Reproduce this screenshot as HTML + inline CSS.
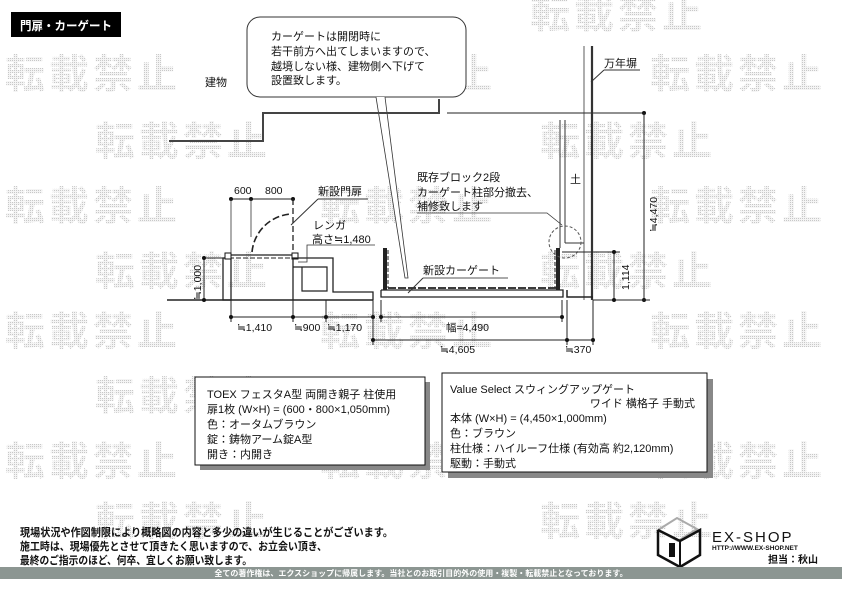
<!DOCTYPE html>
<html><head><meta charset="utf-8"><style>
body{margin:0;background:#fff;}
svg{display:block;font-family:"Liberation Sans","Noto Sans CJK JP",sans-serif;}
.wm{font-size:40px;font-weight:bold;fill:url(#dots);letter-spacing:4px;}
.t{font-size:11px;fill:#111;}
.d{font-size:10.5px;fill:#111;}
</style></head><body>
<svg width="842" height="595" viewBox="0 0 842 595" xmlns="http://www.w3.org/2000/svg">
<defs><pattern id="dots" width="2" height="2" patternUnits="userSpaceOnUse"><rect width="2" height="2" fill="#f4f4f4"/><rect width="1" height="1" fill="#c8c8c8"/></pattern></defs>
<!-- watermarks -->
<g class="wm">
<text x="530" y="28">転載禁止</text>
<text x="5" y="88">転載禁止</text><text x="320" y="88">転載禁止</text><text x="650" y="88">転載禁止</text>
<text x="95" y="155">転載禁止</text><text x="540" y="155">転載禁止</text>
<text x="5" y="220">転載禁止</text><text x="320" y="220">転載禁止</text><text x="650" y="220">転載禁止</text>
<text x="95" y="285">転載禁止</text><text x="540" y="285">転載禁止</text>
<text x="5" y="345">転載禁止</text><text x="320" y="345">転載禁止</text><text x="650" y="345">転載禁止</text>
<text x="95" y="410">転載禁止</text><text x="540" y="410">転載禁止</text>
<text x="5" y="475">転載禁止</text><text x="320" y="475">転載禁止</text><text x="650" y="475">転載禁止</text>
<text x="95" y="535">転載禁止</text><text x="540" y="535">転載禁止</text>
</g>
<!-- title -->
<rect x="11" y="12" width="110" height="25" fill="#000"/>
<text x="20" y="30" fill="#fff" font-size="12" font-weight="bold" textLength="92" lengthAdjust="spacingAndGlyphs">門扉・カーゲート</text>
<!-- callout -->
<rect x="247" y="17" width="219" height="80" rx="13" fill="#fff" stroke="#333" stroke-width="1"/>
<g class="t"><text x="271" y="40">カーゲートは開閉時に</text><text x="271" y="55">若干前方へ出てしまいますので、</text><text x="271" y="70">越境しない様、建物側へ下げて</text><text x="271" y="84">設置致します。</text></g>
<polyline points="376,97 405,278 408,278 385,97" fill="#fff" stroke="#333" stroke-width="0.8"/>
<!-- building -->
<text class="t" x="205" y="86">建物</text>
<polyline points="169,141 263,141 263,113 439,113 439,99" fill="none" stroke="#444" stroke-width="2"/>
<line x1="447" y1="113" x2="644" y2="113" stroke="#222"/><circle cx="644" cy="113" r="2" fill="#111"/>
<line x1="644" y1="113" x2="644" y2="300" stroke="#222"/><circle cx="644" cy="300" r="2" fill="#111"/>
<line x1="593" y1="300" x2="650" y2="300" stroke="#222"/>
<text class="d" transform="translate(657,232) rotate(-90)">≒4,470</text>
<!-- wall -->
<line x1="584" y1="46" x2="584" y2="300" stroke="#333" stroke-width="0.8"/>
<line x1="592" y1="46" x2="592" y2="300" stroke="#333" stroke-width="2.2"/>
<text class="t" x="604" y="67">万年塀</text>
<line x1="604" y1="70" x2="640" y2="70" stroke="#333"/><line x1="604" y1="70" x2="591" y2="82" stroke="#333"/>
<!-- soil box -->
<line x1="560" y1="120" x2="560" y2="248" stroke="#333"/>
<line x1="565" y1="120" x2="565" y2="243" stroke="#333"/>
<line x1="565" y1="243" x2="584" y2="243" stroke="#333"/>
<text class="t" x="570" y="183">土</text>
<!-- ground -->
<line x1="167" y1="300" x2="373" y2="300" stroke="#222" stroke-width="1.5"/>
<polyline points="381,290 563,290 563,297 381,297 381,290" fill="none" stroke="#222" stroke-width="1.3"/>
<polyline points="567,290 567,297 593,297" fill="none" stroke="#222" stroke-width="1.5"/>
<!-- left pillar, gate -->
<rect x="223" y="258" width="8" height="42" fill="none" stroke="#222" stroke-width="1.3"/>
<line x1="231" y1="199" x2="293" y2="199" stroke="#222"/>
<circle cx="231" cy="199" r="2" fill="#111"/><circle cx="251" cy="199" r="2" fill="#111"/><circle cx="293" cy="199" r="2" fill="#111"/>
<line x1="231" y1="199" x2="231" y2="253" stroke="#333" stroke-width="0.8"/>
<line x1="251" y1="199" x2="251" y2="237" stroke="#333" stroke-width="0.8"/>
<line x1="293" y1="199" x2="293" y2="253" stroke="#222" stroke-width="1.3" stroke-dasharray="6,3"/>
<path d="M252,252 A42,42 0 0 1 291,214" fill="none" stroke="#222" stroke-width="1.6" stroke-dasharray="7,3"/>
<line x1="229" y1="255" x2="295" y2="255" stroke="#222" stroke-width="1.2"/>
<line x1="229" y1="258" x2="295" y2="258" stroke="#222" stroke-width="1" stroke-dasharray="5,2"/>
<rect x="225" y="253" width="6" height="6" fill="#fff" stroke="#111"/><rect x="292" y="253" width="6" height="6" fill="#fff" stroke="#111"/>
<text class="d" x="234" y="194">600</text><text class="d" x="265" y="194">800</text>
<text class="t" x="318" y="195">新設門扉</text>
<line x1="318" y1="199" x2="368" y2="199" stroke="#777" stroke-width="1.5"/><line x1="318" y1="199" x2="291" y2="225" stroke="#333"/>
<!-- brick -->
<polyline points="293,300 293,258 333,258 333,292 373,292 373,300" fill="none" stroke="#222" stroke-width="1.3"/>
<polyline points="293,267 327,267 327,291 302,291 302,267" fill="none" stroke="#222" stroke-width="1.2"/>
<polyline points="375,245 307,245 307,262 298,262" fill="none" stroke="#333" stroke-width="0.8"/>
<text class="t" x="313" y="229">レンガ</text><text class="t" x="312" y="243">高さ≒1,480</text>
<!-- car gate -->
<rect x="383" y="248" width="4" height="42" fill="#222"/>
<rect x="556" y="248" width="4" height="42" fill="#222"/>
<line x1="388" y1="288" x2="556" y2="288" stroke="#222" stroke-width="1.8" stroke-dasharray="8,2"/>
<line x1="388" y1="250" x2="388" y2="288" stroke="#222" stroke-dasharray="4,2"/>
<line x1="555" y1="250" x2="555" y2="288" stroke="#222" stroke-dasharray="4,2"/>
<text class="t" x="423" y="274">新設カーゲート</text>
<line x1="423" y1="278" x2="508" y2="278" stroke="#777" stroke-width="1.3"/><line x1="423" y1="278" x2="408" y2="293" stroke="#333"/>
<circle cx="565" cy="242" r="16" fill="none" stroke="#555" stroke-dasharray="3,2"/>
<g class="t"><text x="417" y="181">既存ブロック2段</text><text x="417" y="196">カーゲート柱部分撤去、</text><text x="417" y="210">補修致します</text></g>
<polyline points="417,213 547,213 562,225" fill="none" stroke="#333" stroke-width="0.8"/>
<!-- right dim -->
<line x1="562" y1="252" x2="620" y2="252" stroke="#222"/>
<line x1="614" y1="252" x2="614" y2="300" stroke="#222"/><circle cx="614" cy="252" r="2" fill="#111"/><circle cx="614" cy="300" r="2" fill="#111"/>
<text class="d" transform="translate(629,290) rotate(-90)">1,114</text>
<!-- left dim -->
<line x1="204" y1="258" x2="223" y2="258" stroke="#222"/>
<line x1="204" y1="258" x2="204" y2="300" stroke="#222"/><circle cx="204" cy="258" r="2" fill="#111"/><circle cx="204" cy="300" r="2" fill="#111"/>
<text class="d" transform="translate(201,300) rotate(-90)">≒1,000</text>
<!-- bottom dims -->
<g stroke="#222">
<line x1="231" y1="300" x2="231" y2="322"/><line x1="293" y1="300" x2="293" y2="322"/><line x1="326" y1="300" x2="326" y2="322"/>
<line x1="373" y1="300" x2="373" y2="345"/><line x1="381" y1="300" x2="381" y2="322"/><line x1="562" y1="300" x2="562" y2="322"/>
<line x1="567" y1="300" x2="567" y2="345"/><line x1="593" y1="300" x2="593" y2="345"/>
<line x1="231" y1="317" x2="373" y2="317"/><line x1="381" y1="317" x2="562" y2="317"/>
<line x1="373" y1="340" x2="593" y2="340"/>
</g>
<g fill="#111"><circle cx="231" cy="317" r="2"/><circle cx="293" cy="317" r="2"/><circle cx="326" cy="317" r="2"/><circle cx="373" cy="317" r="2"/><circle cx="381" cy="317" r="2"/><circle cx="562" cy="317" r="2"/><circle cx="373" cy="340" r="2"/><circle cx="567" cy="340" r="2"/><circle cx="593" cy="340" r="2"/></g>
<g class="d"><text x="237" y="331">≒1,410</text><text x="294" y="331">≒900</text><text x="327" y="331">≒1,170</text><text x="446" y="331">幅=4,490</text><text x="440" y="353">≒4,605</text><text x="565" y="353">≒370</text></g>
<!-- info boxes -->
<rect x="200" y="382" width="230" height="88" fill="#888"/>
<rect x="195" y="377" width="230" height="88" fill="#fff" stroke="#111"/>
<g class="t"><text x="207" y="398">TOEX フェスタA型 両開き親子 柱使用</text><text x="207" y="413">扉1枚 (W×H) = (600・800×1,050mm)</text><text x="207" y="428">色：オータムブラウン</text><text x="207" y="443">錠：鋳物アーム錠A型</text><text x="207" y="458">開き：内開き</text></g>
<rect x="448" y="379" width="265" height="99" fill="#888"/>
<rect x="442" y="373" width="265" height="99" fill="#fff" stroke="#111"/>
<g class="t"><text x="450" y="393">Value Select スウィングアップゲート</text><text x="695" y="407" text-anchor="end">ワイド 横格子 手動式</text><text x="450" y="422">本体 (W×H) = (4,450×1,000mm)</text><text x="450" y="437">色：ブラウン</text><text x="450" y="452">柱仕様：ハイルーフ仕様 (有効高 約2,120mm)</text><text x="450" y="467">駆動：手動式</text></g>
<!-- notes -->
<g font-size="11" font-weight="bold" fill="#111"><text x="20" y="536" textLength="373" lengthAdjust="spacingAndGlyphs">現場状況や作図制限により概略図の内容と多少の違いが生じることがございます。</text><text x="20" y="550" textLength="307" lengthAdjust="spacingAndGlyphs">施工時は、現場優先とさせて頂きたく思いますので、お立会い頂き、</text><text x="20" y="564" textLength="232" lengthAdjust="spacingAndGlyphs">最終のご指示のほど、何卒、宜しくお願い致します。</text></g>
<!-- logo -->
<polygon points="658,530 677,518 697,529 678,541" fill="none" stroke="#aaa" stroke-width="2"/>
<polyline points="658,530 658,555 680,567 700,555 700,530 680,541 658,530" fill="none" stroke="#111" stroke-width="2.5"/>
<line x1="680" y1="541" x2="680" y2="567" stroke="#111" stroke-width="2"/>
<rect x="669" y="543" width="6" height="14" fill="#111"/>
<text x="712" y="542" font-size="15" letter-spacing="2" fill="#111">EX-SHOP</text>
<text x="712" y="550" font-size="6.5" font-weight="bold" fill="#111">HTTP://WWW.EX-SHOP.NET</text>
<text x="818" y="563" font-size="10" font-weight="bold" text-anchor="end" fill="#111">担当：秋山</text>
<!-- footer -->
<rect x="0" y="567" width="842" height="12" fill="#8c9692"/>
<text x="421" y="576" font-size="8" font-weight="bold" fill="#fff" text-anchor="middle">全ての著作権は、エクスショップに帰属します。当社とのお取引目的外の使用・複製・転載禁止となっております。</text>
</svg>
</body></html>
